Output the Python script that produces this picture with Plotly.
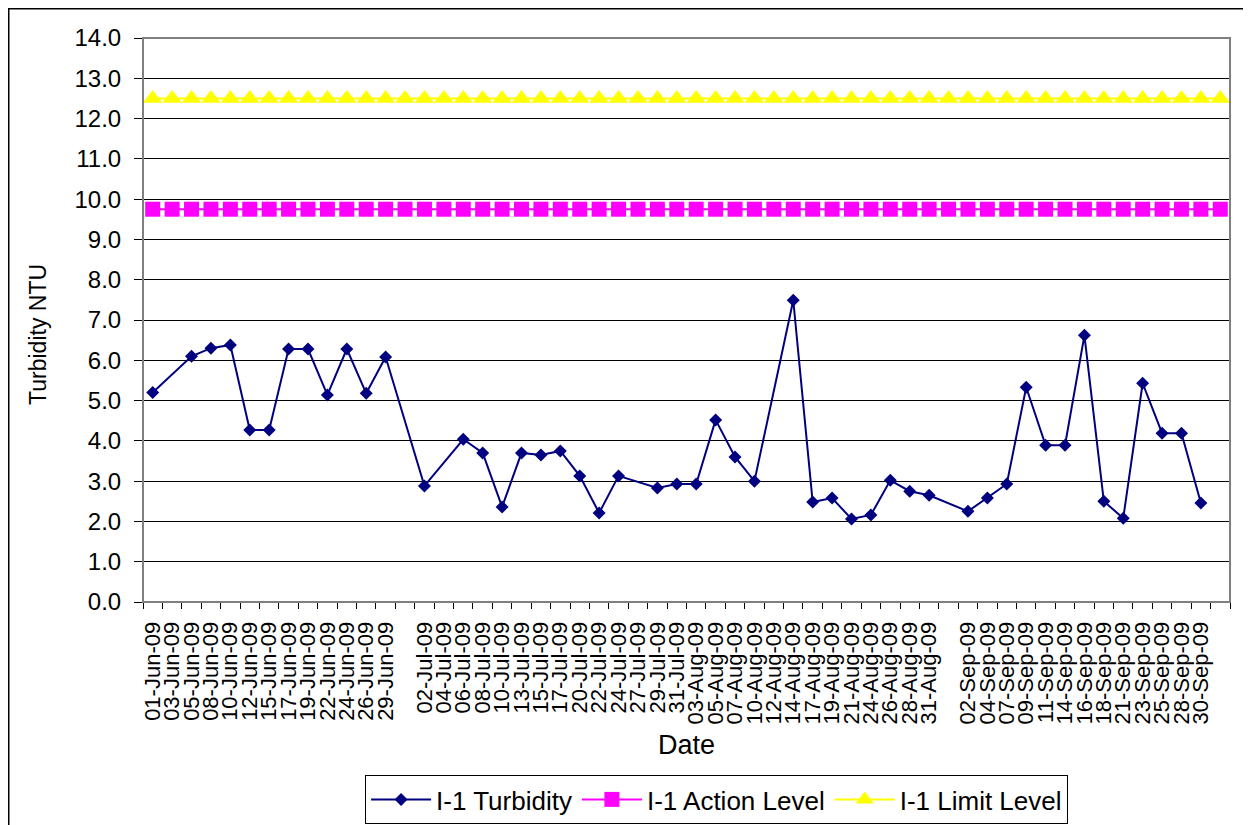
import plotly.graph_objects as go

dates = [
    "01-Jun-09", "03-Jun-09", "05-Jun-09", "08-Jun-09", "10-Jun-09", "12-Jun-09", "15-Jun-09",
    "17-Jun-09", "19-Jun-09", "22-Jun-09", "24-Jun-09", "26-Jun-09", "29-Jun-09",
    "",
    "02-Jul-09", "04-Jul-09", "06-Jul-09", "08-Jul-09", "10-Jul-09", "13-Jul-09", "15-Jul-09",
    "17-Jul-09", "20-Jul-09", "22-Jul-09", "24-Jul-09", "27-Jul-09", "29-Jul-09", "31-Jul-09",
    "03-Aug-09", "05-Aug-09", "07-Aug-09", "10-Aug-09", "12-Aug-09", "14-Aug-09", "17-Aug-09",
    "19-Aug-09", "21-Aug-09", "24-Aug-09", "26-Aug-09", "28-Aug-09", "31-Aug-09",
    "",
    "02-Sep-09", "04-Sep-09", "07-Sep-09", "09-Sep-09", "11-Sep-09", "14-Sep-09", "16-Sep-09",
    "18-Sep-09", "21-Sep-09", "23-Sep-09", "25-Sep-09", "28-Sep-09", "30-Sep-09",
    "",
]

turbidity = [
    5.20, None, 6.10, 6.30, 6.38, 4.27, 4.27, 6.28, 6.28, 5.14, 6.28, 5.18, 6.08,
    None,
    2.88, None, 4.04, 3.70, 2.36, 3.70, 3.65, 3.75, 3.13, 2.21, 3.13, None, 2.83, 2.93,
    2.93, 4.52, 3.60, 3.00, None, 7.49, 2.48, 2.58, 2.06, 2.16, 3.02, 2.75, 2.65,
    None,
    2.25, 2.58, 2.93, 5.33, 3.89, 3.89, 6.62, 2.50, 2.08, 5.43, 4.19, 4.19, 2.46,
    None,
]

action_value = 9.75
limit_value = 12.5
action_level = [action_value] * len(dates)
limit_level = [limit_value] * len(dates)

y_ticks = [i * 1.0 for i in range(15)]

idx = list(range(len(dates)))
FONT = "Liberation Sans, Arial, sans-serif"

# page pixel geometry (the html body adds an 8px offset to the figure)
OFF = 8
W, H = 1251 - OFF, 825 - OFF
PX0, PX1, PY0, PY1 = 143, 1229.6, 38, 602   # plot area in page pixels
L, T = PX0 - OFF, PY0 - OFF
R, B = W - (PX1 - OFF), H - (PY1 - OFF)
pw, ph = PX1 - PX0, PY1 - PY0


def px(x):
    return (x - PX0) / pw


def py(y):
    return (PY1 - y) / ph


fig = go.Figure()
fig.add_trace(go.Scatter(
    x=idx, y=turbidity, name="I-1 Turbidity", mode="lines+markers",
    connectgaps=True,
    line=dict(color="#000080", width=2),
    marker=dict(symbol="diamond", size=10, color="#000080", line=dict(width=0)),
))
fig.add_trace(go.Scatter(
    x=idx, y=action_level, name="I-1 Action Level", mode="lines+markers",
    line=dict(color="#FF00FF", width=2),
    marker=dict(symbol="square", size=15, color="#FF00FF", line=dict(width=0)),
))
fig.add_trace(go.Scatter(
    x=idx, y=limit_level, name="I-1 Limit Level", mode="lines+markers",
    line=dict(color="#FFFF00", width=2),
    marker=dict(symbol="triangle-up", size=17, color="#FFFF00", line=dict(width=0)),
))

fig.update_layout(
    width=W, height=H,
    margin=dict(l=L, r=R, t=T, b=B, pad=0, autoexpand=False),
    paper_bgcolor="white", plot_bgcolor="white",
    font=dict(family=FONT, color="black"),
    showlegend=True,
    legend=dict(
        orientation="h", x=px(365), y=py(775),
        xanchor="left", yanchor="top",
        bgcolor="white", bordercolor="black", borderwidth=1,
        font=dict(size=26, family=FONT), itemwidth=60,
        tracegroupgap=0,
    ),
    xaxis=dict(
        range=[-0.5, len(dates) - 0.5],
        tickmode="array", tickvals=idx, ticktext=dates,
        tickangle=-90, tickfont=dict(size=22, family=FONT),
        ticks="", ticklabelstandoff=10, showgrid=False, zeroline=False,
        showline=True, linecolor="black", linewidth=1,
        minor=dict(tickmode="linear", tick0=-0.5, dtick=1, ticks="outside",
                   ticklen=6, tickcolor="black", tickwidth=1, showgrid=False),
        automargin=False,
    ),
    yaxis=dict(
        range=[0, 14], tickmode="array", tickvals=y_ticks,
        ticktext=[f"{v:.1f}" for v in y_ticks],
        tickfont=dict(size=24, family=FONT),
        ticks="outside", ticklen=8, tickcolor="black", ticklabelstandoff=8,
        showgrid=True, gridcolor="black", gridwidth=1,
        zeroline=False, showline=True, linecolor="black", linewidth=1,
        automargin=False,
    ),
    annotations=[
        dict(text="Turbidity NTU", x=px(38), y=py(334), xref="paper", yref="paper",
             xanchor="center", yanchor="middle",
             showarrow=False, textangle=-90, font=dict(size=23, family=FONT)),
        dict(text="Date", x=px(686), y=py(745), xref="paper", yref="paper",
             xanchor="center", yanchor="middle",
             showarrow=False, font=dict(size=27, family=FONT)),
    ],
    shapes=[
        # plot area border (grey)
        dict(type="rect", xref="paper", yref="paper", x0=0, x1=1, y0=0, y1=1,
             line=dict(color="#808080", width=2), layer="above"),
        # outer chart border
        dict(type="rect", xref="paper", yref="paper",
             x0=px(OFF + 0.8), x1=px(1262), y0=py(840), y1=py(OFF + 0.8),
             line=dict(color="black", width=1.5), layer="below"),
    ],
)

fig.write_html("out.html")
